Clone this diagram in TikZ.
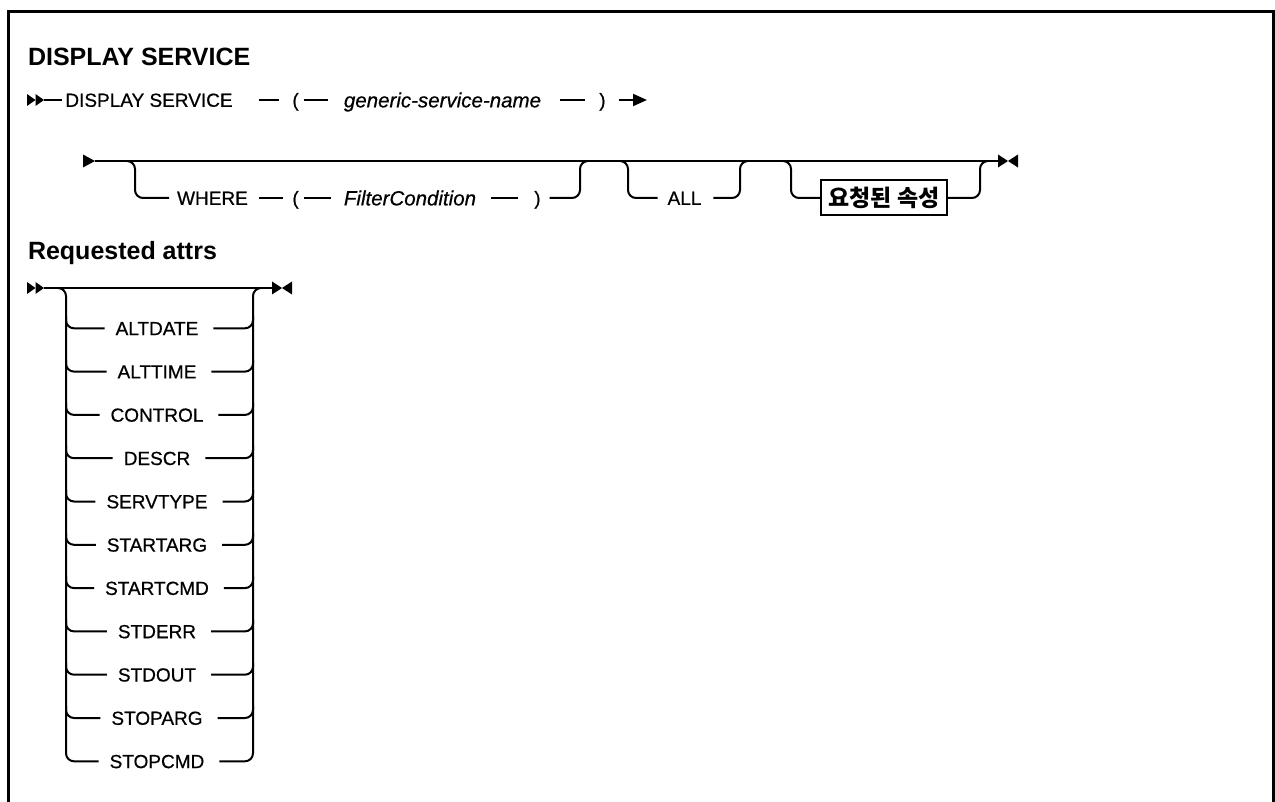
\documentclass[tikz,border=0pt]{standalone}
\usepackage{fontspec}
\setmainfont{Liberation Sans}
\newfontfamily\rg{Liberation Sans}[FakeBold=0.6]
\newfontfamily\kr{Noto Sans CJK KR}
\usetikzlibrary{arrows.meta}
\newcommand\mystart[1]{%
  \fill ([yshift=6pt]#1) -- ([xshift=8.5pt]#1) -- ([yshift=-6pt]#1) -- cycle;
  \fill ([xshift=8.5pt,yshift=6pt]#1) -- ([xshift=17pt]#1) -- ([xshift=8.5pt,yshift=-6pt]#1) -- cycle;}
\newcommand\myend[1]{%
  \fill ([yshift=6.5pt]#1) -- ([xshift=10pt]#1) -- ([yshift=-6.5pt]#1) -- cycle;
  \fill ([xshift=20pt,yshift=6.5pt]#1) -- ([xshift=10pt]#1) -- ([xshift=20pt,yshift=-6.5pt]#1) -- cycle;}
\begin{document}
\begin{tikzpicture}[x=1pt,y=-1pt,line width=2pt,
  kw/.style={font=\rg\fontsize{19pt}{19pt}\selectfont, inner sep=0pt, text height=13.6pt, text depth=0pt},
  var/.style={font=\rg\fontsize{20.5pt}{20pt}\selectfont\itshape, inner sep=0pt, text height=14.7pt, text depth=0pt},
  ttl/.style={font=\fontsize{25pt}{25pt}\selectfont\bfseries, inner sep=0pt, anchor=base west},
  br/.style={rounded corners=8pt},
  kbox/.style={draw, line width=2pt, minimum width=126pt, minimum height=35pt, inner sep=0pt,
    font=\kr\bfseries\fontsize{23pt}{23pt}\selectfont}
]
\useasboundingbox (0,0) rectangle (1275,802);
% frame
\draw[line width=3pt] (8.5,802) -- (8.5,11.5) -- (1273.4,11.5) -- (1273.4,802);

% titles
\node[ttl] (t1) at (27,66) {DISPLAY SERVICE};
\node[ttl] (t2) at (27,260) {Requested attrs};

% ---------- row 1
\coordinate (s1) at (27,100);
\coordinate (e1) at (647,100);
\mystart{s1}
\node[kw] (ds) at (149,100) {DISPLAY SERVICE};
\node[kw] (lp1) at (295.5,100) {(};
\node[var] (gsn) at (442.5,100) {generic-service-name};
\node[kw] (rp1) at (602.5,100) {)};
\draw ([xshift=17pt]s1) -- ([xshift=-2pt]ds.west);
\draw[shorten <=25pt, shorten >=12pt] (ds) -- (lp1);
\draw[shorten <=4pt, shorten >=15pt] (lp1) -- (gsn);
\draw[shorten <=18pt, shorten >=13pt] (gsn) -- (rp1);
\draw[-{Triangle[length=14pt,width=12pt]}, shorten <=12pt] (rp1) -- (e1);

% ---------- row 2
\coordinate (s2) at (83,161);
\coordinate (e2) at (998,161);
\fill ([yshift=6.5pt]s2) -- ([xshift=12pt]s2) -- ([yshift=-6.5pt]s2) -- cycle;
\draw ([xshift=12pt]s2) -- (e2);
\myend{e2}

\node[kw] (wh) at (212.5,198) {WHERE};
\node[kw] (lp2) at (295.5,198) {(};
\node[var] (fc) at (410,198) {FilterCondition};
\node[kw] (rp2) at (537.5,198) {)};
\node[kw] (all) at (684.5,198) {ALL};
\node[kbox] (ra) at (884,198) {요청된 속성};

\coordinate (w1) at (127,161);
\coordinate (w2) at (588,161);
\draw[br] (w1) -- (135,161) -- (135,198) -- ([xshift=-7pt]wh.west);
\draw[shorten <=10pt, shorten >=8pt] (wh) -- (lp2);
\draw[shorten <=4pt, shorten >=12pt] (lp2) -- (fc);
\draw[shorten <=14pt, shorten >=15pt] (fc) -- (rp2);
\draw[br] ([xshift=8pt]rp2.east) -- (580,198) -- (580,161) -- (w2);

\coordinate (a1) at (620,161);
\coordinate (a2) at (748,161);
\draw[br] (a1) -- (628,161) -- (628,198) -- ([xshift=-9pt]all.west);
\draw[br] ([xshift=11pt]all.east) -- (740,198) -- (740,161) -- (a2);

\coordinate (k1) at (783,161);
\coordinate (k2) at (988,161);
\draw[br] (k1) -- (791,161) -- (791,198) -- (ra.west);
\draw[br] (ra.east) -- (980,198) -- (980,161) -- (k2);

% ---------- requested attrs
\coordinate (s3) at (27,288);
\coordinate (e3) at (272,288);
\mystart{s3}
\draw ([xshift=17pt]s3) -- (e3);
\myend{e3}

\foreach \t [count=\i from 0] in {ALTDATE,ALTTIME,CONTROL,DESCR,SERVTYPE,STARTARG,STARTCMD,STDERR,STDOUT,STOPARG,STOPCMD}{
  \node[kw] (o\i) at (157,{328.3+43.3*\i}) {\t};
}
\coordinate (l1) at (58,288);
\coordinate (l2) at (261,288);
\draw[br] (l1) -- (66,288) -- (66,761.3) -- ([xshift=-10pt]o10.west);
\draw[br] ([xshift=14pt]o10.east) -- (253,761.3) -- (253,288) -- (l2);
\foreach \i in {0,...,9}{
  \pgfmathsetmacro\yy{328.3+43.3*\i}
  \draw[br] (66,\yy-12) -- (66,\yy) -- ([xshift=-10pt]o\i.west);
  \draw[br] ([xshift=14pt]o\i.east) -- (253,\yy) -- (253,\yy-12);
}
\end{tikzpicture}
\end{document}
